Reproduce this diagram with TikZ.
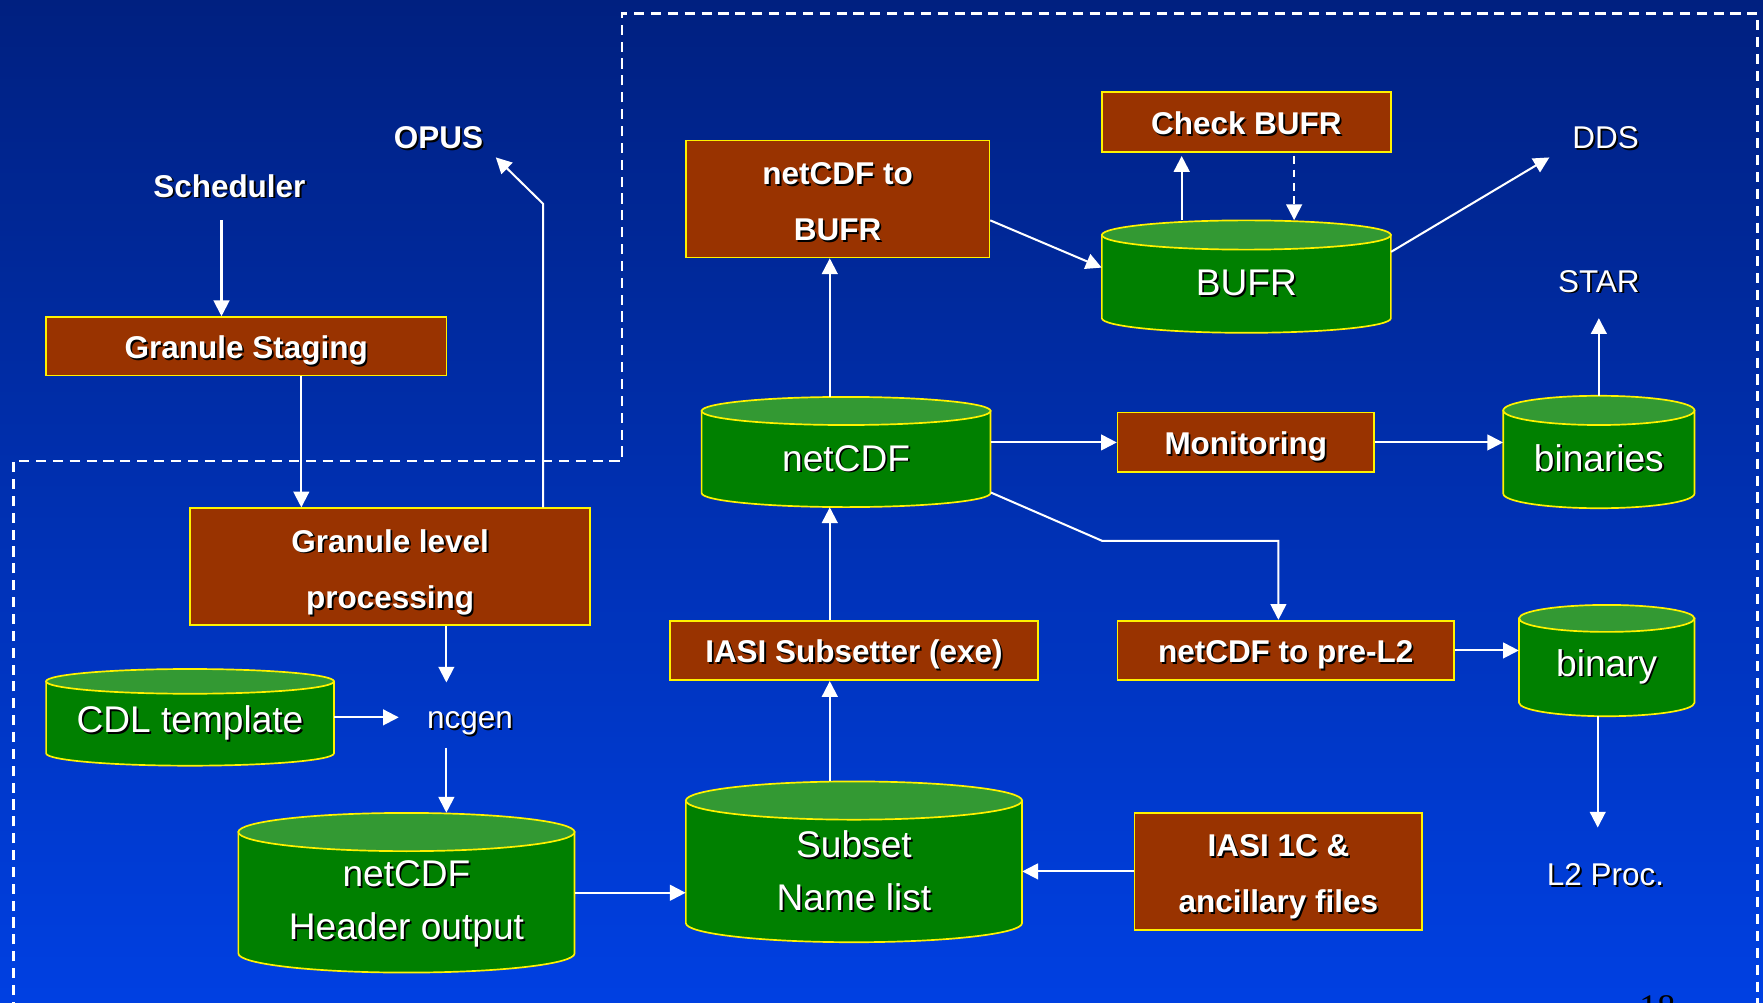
\documentclass[tikz,border=0pt]{standalone}
\usepackage{fontspec}
\setmainfont{Liberation Sans}
\newfontfamily\numfont{Liberation Serif}
\usetikzlibrary{positioning,arrows.meta}

\definecolor{bgtop}{RGB}{0,32,128}
\definecolor{bgmid}{RGB}{0,50,192}
\definecolor{bgbot}{RGB}{0,64,226}
\definecolor{rust}{RGB}{153,51,0}
\definecolor{dbbody}{RGB}{0,128,0}
\definecolor{dbtop}{RGB}{51,153,51}

% white text with a dark drop shadow
\newcommand\shd[1]{\leavevmode\rlap{\kern1.6pt\raisebox{-1.6pt}{\color{black}#1}}#1}

\tikzset{
  proc/.style={draw=yellow, fill=rust, line width=1.5pt, text=white, inner sep=0pt,
    align=center, text height=28pt, text depth=6pt, font=\fontsize{28}{50}\selectfont\bfseries},
  store/.style={text=white, inner sep=0pt, align=center, text height=36pt,
    font=\fontsize{33}{47}\selectfont},
  drum/.style={draw=yellow, line width=1.5pt},
  lbl/.style={text=white, inner sep=0pt, font=\fontsize{28}{34}\selectfont},
  flow/.style={draw=white, line width=1.8pt, -{Triangle[width=14pt,length=14pt]}},
}

\begin{document}
\begin{tikzpicture}[x=1pt,y=-1pt]
  \useasboundingbox (0,0) rectangle (1568,892);
  \fill[top color=bgtop, middle color=bgmid, bottom color=bgbot] (0,0) rectangle (1568,892);

  % cylinders: centre x / centre y / width / height / cap radius
  \foreach \cx/\cy/\w/\h/\r in {1108.5/246/257/100/13, 752.5/402/257/98/12.5,
      1422/402/170/100/13, 1429/587.5/156/99/12, 169/638/256/86/11,
      361.5/794/299/142/17, 759.5/766.5/299/143/17} {
    \filldraw[drum, fill=dbbody] (\cx-\w/2, \cy-\h/2+\r) -- (\cx-\w/2, \cy+\h/2-\r)
      arc[start angle=180, end angle=360, x radius={0.5*\w*1pt}, y radius={\r*1pt}]
      -- (\cx+\w/2, \cy-\h/2+\r) -- cycle;
    \filldraw[drum, fill=dbtop] (\cx, \cy-\h/2+\r) ellipse [x radius={0.5*\w*1pt}, y radius={\r*1pt}];
  }

  % data stores
  \node[store, minimum width=257pt, minimum height=100pt] (bufr) at (1108.5,246) {\shd{BUFR}};
  \node[store, minimum width=257pt, minimum height=98pt] (netcdf) at (752.5,402) {\shd{netCDF}};
  \node[store, minimum width=170pt, minimum height=100pt] (binaries) at (1422,402) {\shd{binaries}};
  \node[store, minimum width=156pt, minimum height=99pt] (binary) at (1429,587.5) {\shd{binary}};
  \node[store, minimum width=256pt, minimum height=86pt] (cdl) at (169,638) {\shd{CDL template}};
  \node[store, minimum width=299pt, minimum height=142pt, text height=92pt] (header) at (361.5,794) {\shd{netCDF}\\\shd{Header output}};
  \node[store, minimum width=299pt, minimum height=143pt, text height=88pt] (subset) at (759.5,766.5) {\shd{Subset}\\\shd{Name list}};

  % boxes
  \node[proc, minimum width=356pt, minimum height=52pt] (stage) at (219,308) {\shd{Granule Staging}};
  \node[proc, minimum width=356pt, minimum height=104pt, text height=80pt] (glp) at (347,504) {\shd{Granule level}\\\shd{processing}};
  \node[proc, minimum width=270pt, minimum height=104pt, text height=80pt] (tobufr) at (745,177) {\shd{netCDF to}\\\shd{BUFR}};
  \node[proc, minimum width=257pt, minimum height=53pt] (check) at (1108.5,108.5) {\shd{Check BUFR}};
  \node[proc, minimum width=228pt, minimum height=53pt] (monitor) at (1108,393.5) {\shd{Monitoring}};
  \node[proc, minimum width=327pt, minimum height=53pt] (subsetter) at (759.5,578.5) {\shd{IASI Subsetter (exe)}};
  \node[proc, minimum width=299pt, minimum height=53pt] (prel2) at (1143.5,578.5) {\shd{netCDF to pre-L2}};
  \node[proc, minimum width=256pt, minimum height=104pt, text height=80pt] (iasi) at (1137,775) {\shd{IASI 1C \&}\\\shd{ancillary files}};

  % plain labels
  \node[lbl, font=\fontsize{28}{34}\selectfont\bfseries] (opus) at (390,123) {\shd{OPUS}};
  \node[lbl, font=\fontsize{28}{34}\selectfont\bfseries] (sched) at (204,166) {\shd{Scheduler}};
  \node[lbl] (dds) at (1428,123) {\shd{DDS}};
  \node[lbl] (star) at (1422,251) {\shd{STAR}};
  \node[lbl] (ncgen) at (418,644) {\shd{ncgen}};
  \node[lbl] (l2) at (1428,779) {\shd{L2 Proc.}};
  \node[text=black, inner sep=0pt, font=\numfont\fontsize{32}{36}\selectfont] (page) at (1474,896) {18};

  % flows
  \draw[flow] ([xshift=-7pt,yshift=-30pt]sched.center) -- ([xshift=-22pt]stage.north);
  \draw[flow] ([xshift=49pt]stage.south) -- ([xshift=-79pt]glp.north);
  \draw[flow] ([xshift=136pt]glp.north) -- ++(0,-270) -- ([xshift=51pt,yshift=-17pt]opus.center);
  \draw[flow] ([xshift=50pt]glp.south) -- ([xshift=-21pt,yshift=37pt]ncgen.center);
  \draw[flow, shorten >=25pt] (cdl.east) -- (cdl.east -| ncgen.west);
  \draw[flow] ([xshift=-21pt,yshift=-21pt]ncgen.center) -- ([xshift=35.5pt]header.north);
  \draw[flow] (header.east) -- (header.east -| subset.west);
  \draw[flow] (iasi.west) -- (iasi.west -| subset.east);
  \draw[flow] ([xshift=-21.5pt]subset.north) -- ([xshift=-21.5pt]subsetter.south);
  \draw[flow] ([xshift=-21.5pt]subsetter.north) -- ([xshift=-14.5pt]netcdf.south);
  \draw[flow] ([xshift=-14.5pt]netcdf.north) -- ([xshift=-7pt]tobufr.south);
  \draw[flow] ([yshift=-19pt]tobufr.east) -- ([yshift=8pt]bufr.west);
  \draw[flow] ([xshift=-57.5pt]bufr.north) -- ([xshift=-57.5pt,yshift=-3pt]check.south);
  \draw[flow, dash pattern=on 7pt off 5pt] ([xshift=42.5pt,yshift=-3pt]check.south) -- ([xshift=42.5pt]bufr.north);
  \draw[flow] ([yshift=22pt]bufr.east) -- ([xshift=-50pt,yshift=-17pt]dds.center);
  \draw[flow] (monitor.west -| netcdf.east) -- (monitor.west);
  \draw[flow] (monitor.east) -- (monitor.east -| binaries.west);
  \draw[flow] (binaries.north) -- ([yshift=-32pt]star.center);
  \draw[flow] ([yshift=-36pt]netcdf.east) -- ++(99,43) -| ([xshift=-6.5pt]prel2.north);
  \draw[flow] (prel2.east) -- (prel2.east -| binary.west);
  \draw[flow] ([xshift=-8pt]binary.south) -- ([xshift=-7pt,yshift=43pt]l2.center);

  % process boundary
  \draw[white, line width=2pt, dash pattern=on 9pt off 6pt]
    (12,900) -- (12,410) -- (553,410) -- (553,12) -- (1563,12) -- (1563,900);
\end{tikzpicture}
\end{document}
